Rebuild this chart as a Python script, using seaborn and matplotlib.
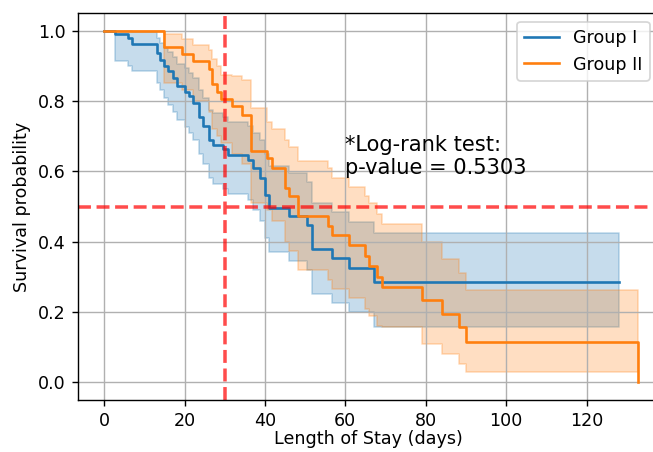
import matplotlib.pyplot as plt
import seaborn as sns
import pandas as pd

# Kaplan-Meier steps (time in days, survival, 95% CI)
group1_time = [0, 2.7, 6.0, 6.9, 13.1, 13.9, 14.9, 16.0, 17.2, 18.1, 20.1, 21.1, 22.2, 23.5, 24.5,
               26.0, 27.2, 29.7, 30.8, 35.9, 37.1, 38.8, 40.0, 40.9, 45.9, 50.4, 51.7, 56.6, 60.8,
               67.2, 128]
group1_surv = [1.0, 0.99, 0.979, 0.963, 0.936, 0.918, 0.899, 0.884, 0.865, 0.842, 0.827, 0.813, 0.794,
               0.756, 0.728, 0.69, 0.676, 0.664, 0.647, 0.633, 0.609, 0.581, 0.534, 0.496, 0.472,
               0.448, 0.38, 0.353, 0.325, 0.285, 0.285]
group1_lower = [1.0, 0.915, 0.90, 0.885, 0.85, 0.83, 0.81, 0.79, 0.77, 0.745, 0.725, 0.71, 0.69,
                0.65, 0.62, 0.58, 0.565, 0.55, 0.535, 0.52, 0.49, 0.46, 0.41, 0.37, 0.345, 0.32,
                0.25, 0.225, 0.2, 0.157, 0.157]
group1_upper = [1.0, 1.0, 0.998, 0.995, 0.98, 0.965, 0.95, 0.94, 0.925, 0.905, 0.895, 0.88, 0.865,
                0.83, 0.81, 0.775, 0.765, 0.755, 0.74, 0.73, 0.71, 0.69, 0.65, 0.615, 0.595, 0.57,
                0.51, 0.485, 0.455, 0.424, 0.424]

group2_time = [0, 15.0, 19.5, 22.0, 26.0, 26.9, 28.0, 29.1, 31.8, 34.2, 36.6, 40.5, 41.7, 44.9,
               45.9, 48.3, 55.8, 56.8, 60.8, 65.0, 65.8, 68.0, 69.2, 79.2, 84.0, 88.2, 90.0, 132.9]
group2_surv = [1.0, 0.953, 0.934, 0.913, 0.891, 0.848, 0.827, 0.807, 0.785, 0.761, 0.659, 0.638,
               0.611, 0.554, 0.529, 0.474, 0.445, 0.42, 0.39, 0.36, 0.33, 0.30, 0.27, 0.235, 0.195,
               0.157, 0.116, 0.0]
group2_lower = [1.0, 0.85, 0.83, 0.80, 0.77, 0.72, 0.70, 0.68, 0.65, 0.62, 0.51, 0.49, 0.46, 0.40,
                0.375, 0.32, 0.29, 0.265, 0.24, 0.21, 0.19, 0.16, 0.157, 0.11, 0.081, 0.052, 0.029,
                0.029]
group2_upper = [1.0, 0.99, 0.975, 0.96, 0.945, 0.92, 0.90, 0.875, 0.87, 0.86, 0.78, 0.74, 0.72, 0.69,
                0.67, 0.63, 0.61, 0.58, 0.555, 0.53, 0.51, 0.48, 0.45, 0.40, 0.35, 0.31, 0.262, 0.262]

median_line = 0.5
cutoff_day = 30
pvalue = 0.5303

groups = [
    ("Group I", group1_time, group1_surv, group1_lower, group1_upper, "tab:blue"),
    ("Group II", group2_time, group2_surv, group2_lower, group2_upper, "tab:orange"),
]

fig = plt.figure(figsize=(653 / 126, 452 / 126), dpi=126)
ax = fig.add_axes([0.1194, 0.115, 0.889, 0.856])

for name, t, s, lo, hi, col in groups:
    df = pd.DataFrame({"time": t, "surv": s})
    sns.lineplot(data=df, x="time", y="surv", ax=ax, drawstyle="steps-post",
                 color=col, label=name, estimator=None)
    ax.fill_between(t, lo, hi, step="post", color=col, alpha=0.25)

ax.axhline(median_line, color="red", linestyle="--", linewidth=2, alpha=0.7)
ax.axvline(cutoff_day, color="red", linestyle="--", linewidth=2, alpha=0.7)

ax.text(60, 0.58, f"*Log-rank test:\np-value = {pvalue}", fontsize=12, va="bottom")

ax.set_xlim(-6.5, 137.9)
ax.set_ylim(-0.05, 1.05)
ax.grid(True)
ax.spines["right"].set_visible(False)  # falls outside the cropped reference
ax.set_xlabel("Length of Stay (days)", labelpad=0)
ax.set_ylabel("Survival probability")
ax.legend(loc="upper right")

fig.savefig("out.png", dpi=126)
